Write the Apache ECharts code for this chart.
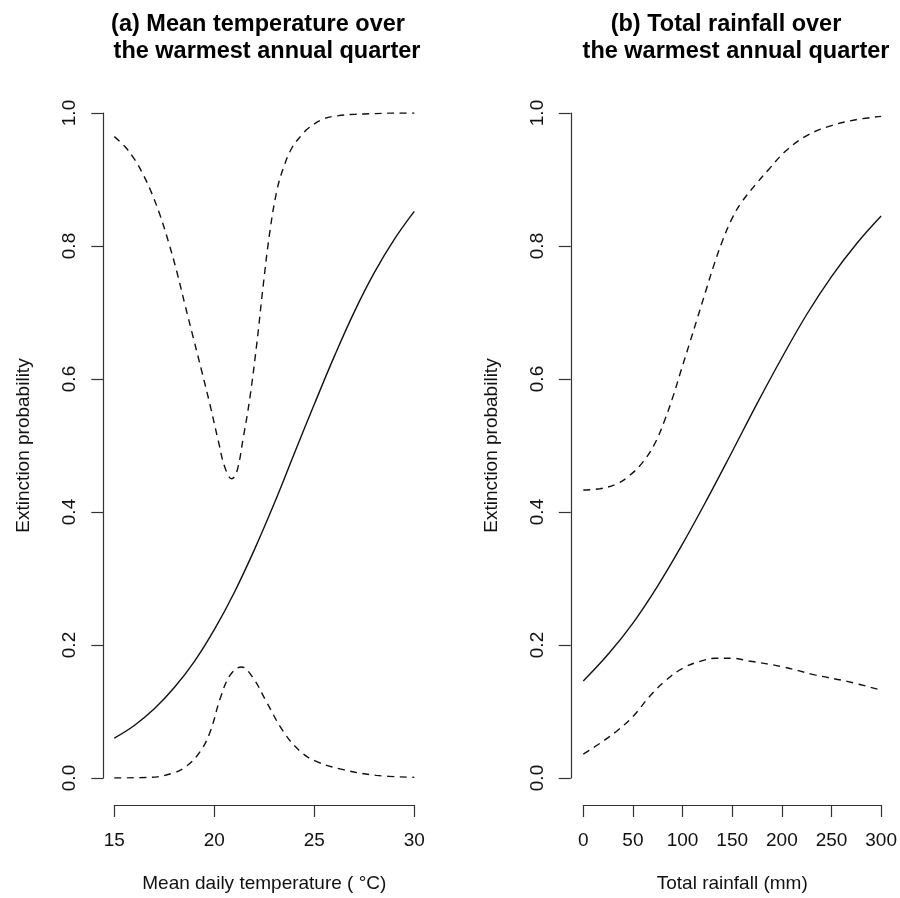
<!DOCTYPE html>
<html>
<head>
<meta charset="utf-8">
<script src="https://cdn.jsdelivr.net/npm/echarts@6/dist/echarts.min.js"></script>
<style>
html,body{margin:0;padding:0;background:#fff;}
#chart{width:900px;height:898px;}
</style>
</head>
<body>
<div id="chart"></div>
<script>
// ---- Panel (a): mean temperature over the warmest annual quarter ----
var tempFitX = [15, 16, 17, 18, 19, 20, 21, 22, 23, 24, 25, 26, 27, 28, 29, 30];
var tempFitY = [0.060, 0.079, 0.104, 0.136, 0.175, 0.223, 0.279, 0.343, 0.413, 0.488, 0.562, 0.634, 0.701, 0.760, 0.810, 0.852];

var tempUpperX = [15, 15.53, 16.03, 16.45, 16.87, 17.28, 17.7, 18.12, 18.53, 18.95, 19.37, 19.78, 20.2, 20.53, 20.87, 21.12, 21.45, 21.78, 22.12, 22.45, 22.78, 23.12, 23.45, 23.87, 24.37, 24.7, 25.45, 26.2, 27.0, 28.0, 29.0, 30];
var tempUpperY = [0.9645, 0.9495, 0.9295, 0.907, 0.8795, 0.847, 0.807, 0.762, 0.712, 0.662, 0.612, 0.562, 0.507, 0.467, 0.45, 0.46, 0.512, 0.572, 0.652, 0.742, 0.822, 0.882, 0.917, 0.947, 0.967, 0.977, 0.991, 0.996, 0.998, 0.999, 1.0, 1.0];

var tempLowerX = [15, 16.8, 17.95, 18.6, 19.3, 19.8, 20.3, 20.8, 21.35, 21.95, 22.6, 23.45, 24.3, 25.1, 26.45, 28.1, 30];
var tempLowerY = [0.0, 0.001, 0.0075, 0.0175, 0.04, 0.07, 0.12, 0.155, 0.167, 0.15, 0.115, 0.07, 0.04, 0.025, 0.0125, 0.004, 0.001];

var tempTicks = [15, 20, 25, 30];

// ---- Panel (b): total rainfall over the warmest annual quarter ----
var rainFitX = [0, 25, 50, 75, 100, 125, 150, 175, 200, 225, 250, 275, 300];
var rainFitY = [0.146, 0.186, 0.233, 0.289, 0.352, 0.420, 0.491, 0.563, 0.632, 0.697, 0.754, 0.803, 0.845];

var rainUpperX = [0, 16.7, 33.3, 46.7, 60, 71.7, 81.7, 90, 98.3, 106.7, 115, 123.3, 131.7, 140, 150, 160, 173.3, 186.7, 203.3, 223.3, 246.7, 273.3, 300];
var rainUpperY = [0.433, 0.435, 0.442, 0.455, 0.475, 0.502, 0.537, 0.572, 0.612, 0.652, 0.692, 0.732, 0.772, 0.807, 0.842, 0.867, 0.892, 0.915, 0.942, 0.9645, 0.9795, 0.9895, 0.995];

var rainLowerX = [0, 16.7, 33.3, 50, 66.7, 83.3, 100, 116.7, 133.3, 150, 166.7, 200, 233.3, 266.7, 300];
var rainLowerY = [0.036, 0.052, 0.07, 0.0925, 0.1225, 0.147, 0.165, 0.175, 0.18, 0.18, 0.176, 0.1675, 0.155, 0.145, 0.132];

var rainTicks = [0, 50, 100, 150, 200, 250, 300];
var probTicks = [0.0, 0.2, 0.4, 0.6, 0.8, 1.0];

var titleA = ['(a) Mean temperature over', 'the warmest annual quarter'];
var titleB = ['(b) Total rainfall over', 'the warmest annual quarter'];
var xNameA = 'Mean daily temperature ( \u00B0C)';
var xNameB = 'Total rainfall (mm)';
var yName = 'Extinction probability';

function pairs(xs, ys) {
  return xs.map(function (x, i) { return [x, ys[i]]; });
}

var FONT = '"Liberation Sans", Arial, Helvetica, sans-serif';
var INK = '#111';
var AXC = '#333';

function xAxisDef(gi, ticks, name) {
  return {
    type: 'value', gridIndex: gi,
    min: ticks[0], max: ticks[ticks.length - 1],
    interval: ticks[1] - ticks[0],
    offset: 27,
    name: name, nameLocation: 'middle', nameGap: 69,
    nameTextStyle: { fontFamily: FONT, fontSize: 19, color: INK },
    axisLine: { show: true, onZero: false, lineStyle: { color: AXC, width: 1.2 } },
    axisTick: { show: true, length: 12, inside: false, lineStyle: { color: AXC, width: 1.2 } },
    axisLabel: { fontFamily: FONT, fontSize: 19, color: INK, margin: 26, showMinLabel: true, showMaxLabel: true },
    splitLine: { show: false }
  };
}
function yAxisDef(gi, off) {
  return {
    type: 'value', gridIndex: gi,
    min: probTicks[0], max: probTicks[probTicks.length - 1],
    interval: 0.2,
    offset: off,
    name: yName, nameLocation: 'middle', nameGap: 70, nameRotate: 90,
    nameTextStyle: { fontFamily: FONT, fontSize: 19, color: INK },
    axisLine: { show: true, onZero: false, lineStyle: { color: AXC, width: 1.2 } },
    axisTick: { show: true, length: 12, inside: false, lineStyle: { color: AXC, width: 1.2 } },
    axisLabel: { fontFamily: FONT, fontSize: 19, color: INK, margin: 24, rotate: 90,
      formatter: function (v) { return v.toFixed(1); } },
    splitLine: { show: false }
  };
}
function lineSeries(xi, yi, xs, ys, dashed) {
  return {
    type: 'line', xAxisIndex: xi, yAxisIndex: yi,
    data: pairs(xs, ys),
    showSymbol: false, symbol: 'none',
    smooth: 0.4,
    silent: true, animation: false,
    lineStyle: dashed ? { color: INK, width: 1.4, type: [7, 5.5] } : { color: INK, width: 1.4 }
  };
}
function titleText(str, cx, cy) {
  return {
    type: 'text', x: cx, y: cy, silent: true,
    style: { text: str, fontFamily: FONT, fontSize: 23.5, fontWeight: 'bold', fill: '#000',
      textAlign: 'center', textVerticalAlign: 'middle' }
  };
}

var chart = echarts.init(document.getElementById('chart'), null, { renderer: 'canvas' });
chart.setOption({
  backgroundColor: '#fff',
  animation: false,
  grid: [
    { left: 114.3, top: 113, width: 300, height: 667, containLabel: false },
    { left: 583.3, top: 113, width: 300, height: 667, containLabel: false }
  ],
  xAxis: [xAxisDef(0, tempTicks, xNameA), xAxisDef(1, rainTicks, xNameB)],
  yAxis: [yAxisDef(0, 11), yAxisDef(1, 12.5)],
  series: [
    lineSeries(0, 0, tempFitX, tempFitY, false),
    lineSeries(0, 0, tempUpperX, tempUpperY, true),
    lineSeries(0, 0, tempLowerX, tempLowerY, true),
    lineSeries(1, 1, rainFitX, rainFitY, false),
    lineSeries(1, 1, rainUpperX, rainUpperY, true),
    lineSeries(1, 1, rainLowerX, rainLowerY, true)
  ],
  graphic: [
    titleText(titleA[0], 258, 25),
    titleText(titleA[1], 267, 52),
    titleText(titleB[0], 726, 25),
    titleText(titleB[1], 736, 52)
  ]
});
</script>
</body>
</html>
